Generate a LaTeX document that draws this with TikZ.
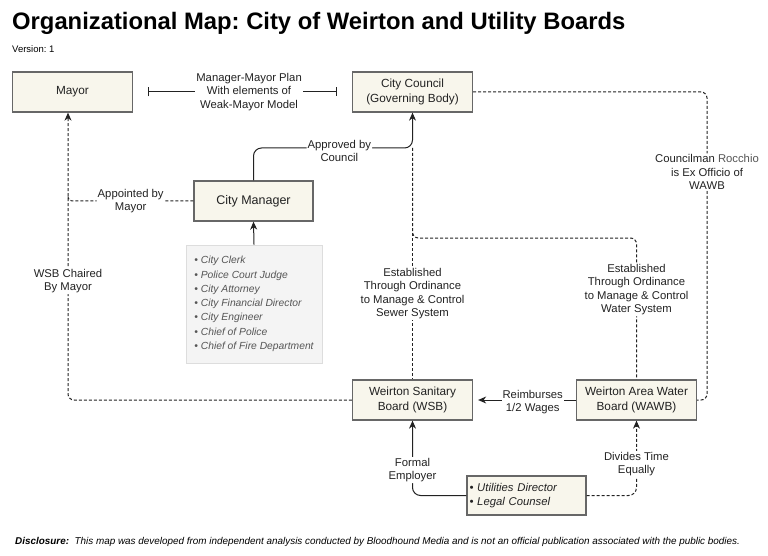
\documentclass[tikz,border=0pt]{standalone}
\usepackage{fontspec}
\setmainfont{Liberation Sans}
\usetikzlibrary{arrows.meta,calc}
\frenchspacing
\definecolor{boxfill}{HTML}{F8F6EC}
\definecolor{boxline}{HTML}{676767}
\definecolor{listfill}{HTML}{F4F4F4}
\definecolor{listline}{HTML}{DDDDDD}
\definecolor{listtext}{HTML}{555555}
\definecolor{ink}{HTML}{222222}
\tikzset{
  box/.style={draw=boxline, line width=1.3pt, fill=boxfill, minimum width=120pt, minimum height=40pt,
    inner sep=2pt, align=center, text=ink, font=\fontsize{11.8}{15}\selectfont},
  listbox/.style={draw=listline, line width=0.8pt, fill=listfill, minimum width=136pt, minimum height=118pt,
    align=left, text=listtext, font=\fontsize{10.3}{14.3}\selectfont\itshape},
  lbl/.style={fill=white, inner sep=1pt, align=center, text=ink, font=\fontsize{11.3}{13.5}\selectfont},
  conn/.style={line width=1pt, draw=ink},
  dline/.style={conn, dash pattern=on 3pt off 2pt},
  arrowend/.style={-{Stealth[length=8pt,width=7pt,inset=2.5pt]}},
}
\begin{document}
\begin{tikzpicture}[x=1pt,y=-1pt]
\useasboundingbox (0,0) rectangle (768,556);

% texts
\node[anchor=base west, inner sep=0pt, font=\fontsize{23.8}{26}\selectfont\bfseries] (title) at (12,30)
  {Organizational Map: City of Weirton and Utility Boards};
\node[anchor=base west, inner sep=0pt, font=\fontsize{9.5}{11}\selectfont] (version) at (12,53) {Version: 1};
\node[anchor=base west, inner sep=0pt, font=\fontsize{9.9}{11}\selectfont\itshape] (disc) at (15,544)
  {\textbf{Disclosure:}\ \ This map was developed from independent analysis conducted by Bloodhound Media and is not an official publication associated with the public bodies.};

% boxes
\node[box] (mayor) at (72.5,92) {Mayor};
\node[box] (council) at (412.5,92) {City Council\\(Governing Body)};
\node[box, minimum width=119pt, font=\fontsize{12.5}{15}\selectfont] (cm) at (253.5,201) {City Manager};
\node[listbox] (list) at (254,304) {\textbullet\ City Clerk\\\textbullet\ Police Court Judge\\\textbullet\ City Attorney\\\textbullet\ City Financial Director\\\textbullet\ City Engineer\\\textbullet\ Chief of Police\\\textbullet\ Chief of Fire Department};
\node[box] (wsb) at (412.5,400) {Weirton Sanitary\\Board (WSB)};
\node[box] (wawb) at (636.5,400) {Weirton Area Water\\Board (WAWB)};
\node[box, minimum width=119pt, minimum height=39pt, text width=114pt, inner xsep=2.5pt, align=left,
  font=\fontsize{11.3}{14}\selectfont\itshape] (util) at (526.5,495.5) {\textbullet\ Utilities Director\\\textbullet\ Legal Counsel};

% helper coordinates
\coordinate (ac) at (412.5,148);
\coordinate (sp) at (412.5,238);
\coordinate (rc) at (707,400);
\coordinate (mx) at ($(mayor.south)+(-4.5,0)$);
\coordinate (mj) at (68,195);

% dashed connectors
\draw[dline] (ac) -- node[lbl, pos=0.63]{Established\\Through Ordinance\\to Manage \& Control\\Sewer System} (wsb.north);
\draw[dline, rounded corners=6pt] (ac) -- (sp) -| node[lbl, pos=0.683]{Established\\Through Ordinance\\to Manage \& Control\\Water System} (wawb.north);
\draw[dline, rounded corners=6pt] (council.east) -| node[lbl, pos=0.63]{Councilman \textcolor{listtext}{Rocchio}\\is Ex Officio of\\WAWB} (rc) -- (wawb.east);
\draw[dline, arrowend, rounded corners=6pt] (wsb.west) -| node[lbl, pos=0.707]{WSB Chaired\\By Mayor} (mx);
\draw[dline, rounded corners=4pt] (cm.west) -| node[lbl, pos=0.25]{Appointed by\\Mayor} (mj);
\draw[dline, arrowend, rounded corners=8pt] (util.east) -| node[lbl, pos=0.71]{Divides Time\\Equally} (wawb.south);

% solid connectors
\draw[conn, {Bar[width=9pt]}-{Bar[width=9pt]}, shorten <=15pt, shorten >=15pt] (mayor.east) -- node[lbl, pos=0.53]{Manager-Mayor Plan\\With elements of\\Weak-Mayor Model} (council.west);
\draw[conn, arrowend] (list.north) -- (cm.south);
\draw[conn, arrowend, rounded corners=8pt] (cm.north) |- node[lbl, pos=0.77, yshift=-3pt]{Approved by\\Council} (ac) -- (council.south);
\draw[conn, arrowend, shorten >=5pt] (wawb.west) -- node[lbl, pos=0.42, yshift=-2pt]{Reimburses\\1/2 Wages} (wsb.east);
\draw[conn, arrowend, rounded corners=8pt] (util.west) -| node[lbl, pos=0.67]{Formal\\Employer} (wsb.south);
\end{tikzpicture}
\end{document}
